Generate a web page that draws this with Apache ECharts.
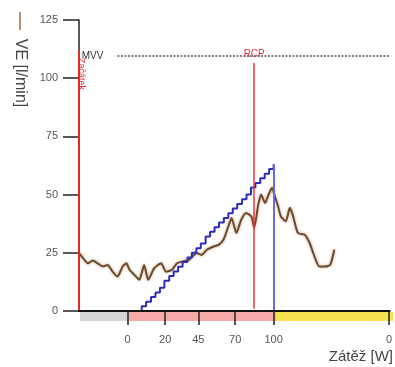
<!DOCTYPE html>
<html>
<head>
    <meta charset="UTF-8">
    <script src="https://cdn.jsdelivr.net/npm/echarts@6/dist/echarts.min.js"></script>
    <style>
        html, body { margin: 0; padding: 0; background: #fff; }
    </style>
</head>
<body>
<div id="chart" style="width: 395px;height:367px;"></div>
<script type="text/javascript">
    // time axis in seconds, labels show the load (W)
    var timeMax = 768;
    var tickTimes = [120, 213, 295, 386, 481, 766];
    var tickLabels = ['0', '20', '45', '70', '100', '0'];

    // phases: rest, ramp, recovery
    var phaseStart = [0, 120, 481];
    var phaseEnd = [120, 481, 768];
    var phaseColors = ['#d6d6d6', '#f6aaa8', '#f6e24e'];

    // VE [l/min]
    var veTime = [0, 10, 22, 34, 46, 59, 71, 83, 95, 108, 117, 125, 137, 149, 161, 171, 186, 203, 215, 230,
        242, 254, 272, 291, 303, 316, 333, 345, 357, 369, 377, 389, 401, 413, 426, 433, 443, 450, 460, 467,
        477, 484, 492, 499, 511, 521, 528, 541, 558, 570, 582, 594, 609, 621, 631];
    var veValues = [25, 22.7, 20.5, 21.7, 20.5, 19.1, 19.8, 16.9, 14.8, 19.1, 20.5, 17.7, 15.5, 13.4, 19.8, 13.4, 18.4, 20.5, 16.9, 17.7,
        20.5, 21.2, 22, 24.9, 24.1, 26.3, 27.7, 28.4, 30.6, 36.3, 40, 33.5, 39.2, 42.1, 40.6, 35.8, 45.7, 50, 46.4, 49.3,
        52.9, 49.3, 45, 40.6, 38.5, 44.3, 41.4, 33.5, 32.8, 29.2, 23.4, 19.1, 19.1, 19.8, 26.3];

    // load staircase
    var loadTime = [144, 155, 166, 178, 189, 200, 211, 223, 234, 245, 256, 268, 279, 290, 301, 313, 324, 335, 346, 358,
        369, 380, 391, 403, 414, 425, 436, 448, 459, 470, 481];
    var loadValues = [0, 2, 4, 6, 8, 10, 13, 15, 17, 19, 21, 23, 25, 27, 29, 32, 34, 36, 38, 40,
        42, 44, 46, 48, 50, 53, 55, 57, 59, 61, 63];

    // markers
    var mvvValue = 109.5;
    var mvvStart = 95;
    var rcpTime = 433;
    var rcpTop = 106.5;
    var startTop = 112;

    var font = 'Liberation Sans';

    function pairs(xs, ys) {
        var out = [];
        for (var i = 0; i < xs.length; i++) out.push([xs[i], ys[i]]);
        return out;
    }

    var phaseAreas = [];
    for (var i = 0; i < phaseStart.length; i++) {
        phaseAreas.push([{ xAxis: phaseStart[i], itemStyle: { color: phaseColors[i] } }, { xAxis: phaseEnd[i] }]);
    }

    var myChart = echarts.init(document.getElementById('chart'));
    var option = {
        animation: false,
        textStyle: { fontFamily: font },
        grid: [
            { left: 79, right: 2, top: 20, bottom: 56 },
            { left: 80, right: 2, top: 312, height: 9 }
        ],
        xAxis: [
            {
                type: 'value', gridIndex: 0, min: 0, max: timeMax, z: 5,
                splitLine: { show: false },
                axisLine: { lineStyle: { color: '#111', width: 2 } },
                axisTick: { customValues: tickTimes, length: 14, lineStyle: { color: '#222', width: 1.5 } },
                axisLabel: {
                    customValues: tickTimes, margin: 23, color: '#555', fontSize: 11,
                    formatter: function (v) {
                        var k = tickTimes.indexOf(v);
                        return k >= 0 ? tickLabels[k] : '';
                    }
                }
            },
            { type: 'value', gridIndex: 1, min: 0, max: timeMax, show: false }
        ],
        yAxis: [
            {
                type: 'value', gridIndex: 0, min: 0, max: 125, interval: 25,
                splitLine: { show: false },
                axisLine: { show: true, lineStyle: { color: '#222', width: 1.5 } },
                axisTick: { show: true, length: 16, lineStyle: { color: '#222', width: 1.5 } },
                axisLabel: { margin: 21, color: '#555', fontSize: 11 }
            },
            { type: 'value', gridIndex: 1, min: 0, max: 1, show: false }
        ],
        series: [
            {
                // phase band under the axis
                type: 'line', xAxisIndex: 1, yAxisIndex: 1,
                data: [[0, 0]], symbol: 'none', lineStyle: { opacity: 0 },
                silent: true,
                markArea: { silent: true, data: phaseAreas }
            },
            {
                name: 'VE', type: 'line',
                data: pairs(veTime, veValues),
                symbol: 'none', smooth: 0.2, z: 3,
                lineStyle: { color: '#6b4a2e', width: 2, shadowColor: 'rgba(185,145,95,0.8)', shadowBlur: 3 }
            },
            {
                name: 'Zátěž', type: 'line', step: 'end',
                data: pairs(loadTime, loadValues),
                symbol: 'none', z: 4,
                lineStyle: { color: '#2c2cb8', width: 2 },
                markLine: {
                    symbol: 'none', silent: true,
                    lineStyle: { color: '#6a6ae0', width: 2, type: 'solid' },
                    label: { show: false },
                    data: [[{ coord: [loadTime[loadTime.length - 1], 0] }, { coord: [loadTime[loadTime.length - 1], loadValues[loadValues.length - 1]] }]]
                }
            },
            {
                // markers: start, MVV, RCP
                type: 'line', data: [], z: 5,
                markLine: {
                    symbol: 'none', silent: true,
                    data: [
                        [
                            { coord: [0, 0], lineStyle: { color: '#e32a2a', width: 2, type: 'solid' }, label: { show: false } },
                            { coord: [0, startTop] }
                        ],
                        [
                            {
                                coord: [mvvStart, mvvValue],
                                lineStyle: { color: '#555', width: 1.5, type: [2, 1.5] },
                                label: { show: true, position: 'start', distance: 14, formatter: 'MVV', color: '#333', fontSize: 10, fontFamily: font }
                            },
                            { coord: [timeMax, mvvValue] }
                        ],
                        [
                            {
                                coord: [rcpTime, 1],
                                lineStyle: { color: '#e8343a', width: 1.5, type: 'solid' },
                                label: { show: true, position: 'end', distance: 4, formatter: 'RCP', color: '#e8343a', fontSize: 10, fontFamily: font }
                            },
                            { coord: [rcpTime, rcpTop] }
                        ]
                    ]
                }
            }
        ],
        graphic: [
            {
                type: 'line', silent: true,
                shape: { x1: 20, y1: 12, x2: 20, y2: 30 },
                style: { stroke: '#9a6a44', lineWidth: 1.5 }
            },
            {
                type: 'text', x: 20, y: 73, rotation: -Math.PI / 2, silent: true,
                style: { text: 'VE [l/min]', font: '16px "Liberation Sans"', fill: '#444', align: 'center', verticalAlign: 'middle' }
            },
            {
                type: 'text', x: 81, y: 74, rotation: -Math.PI / 2, silent: true,
                style: { text: 'Začátek', font: '9px "Liberation Sans"', fill: '#e32a2a', align: 'center', verticalAlign: 'middle' }
            },
            {
                type: 'text', right: 2, top: 349, silent: true,
                style: { text: 'Zátěž [W]', font: '15px "Liberation Sans"', fill: '#444' }
            }
        ]
    };
    myChart.setOption(option);
</script>
</body>
</html>
